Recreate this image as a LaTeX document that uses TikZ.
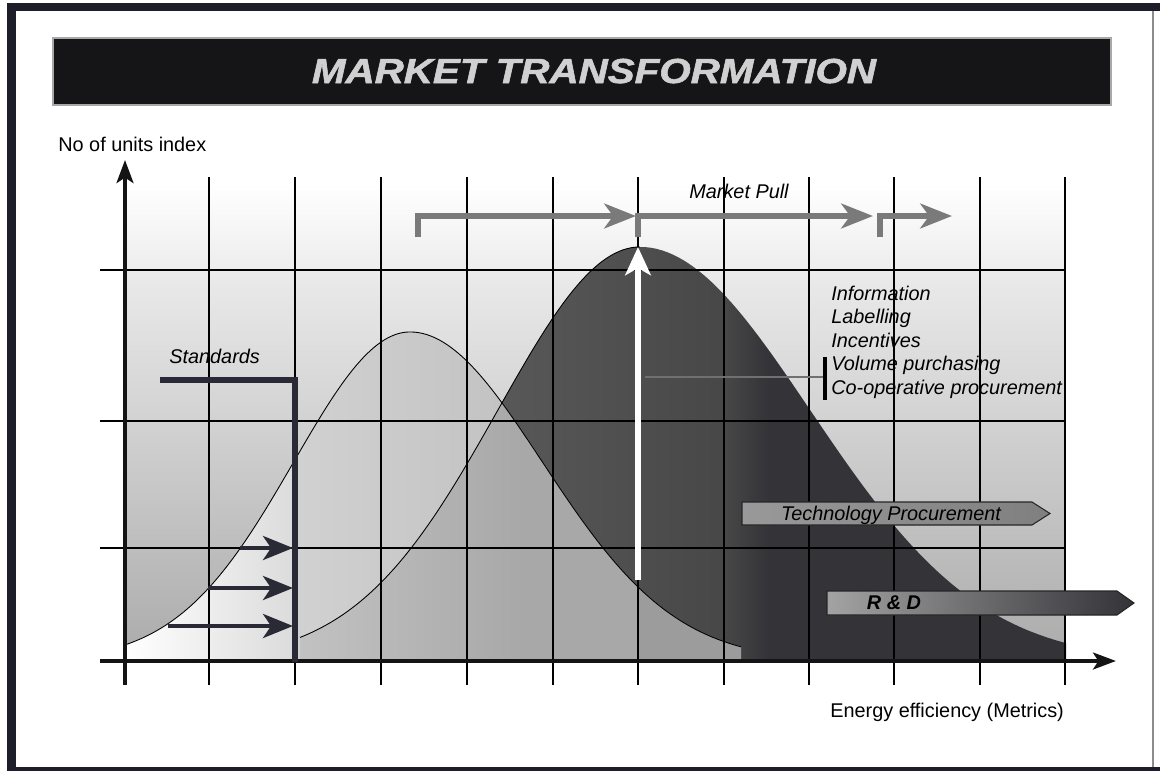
\documentclass[tikz,border=0pt]{standalone}
\usepackage{fontspec}
\setmainfont{Liberation Sans}
\usepackage{graphicx}
\usetikzlibrary{arrows.meta}
\definecolor{framec}{HTML}{1E1E2A}
\definecolor{titlebg}{HTML}{151517}
\definecolor{titlebd}{HTML}{A8A8A8}
\definecolor{titletx}{HTML}{D0D0D0}
\definecolor{mpgray}{HTML}{7A7A7A}
\definecolor{stdc}{HTML}{2A2A36}
\definecolor{darkc}{HTML}{333338}
\definecolor{linkgray}{HTML}{707070}
\begin{document}
\begin{tikzpicture}[x=0.02cm,y=-0.02cm,
  declare function={
    c1l(\x)=661-329*exp(-0.5*((\x-410)/116)*((\x-410)/116));
    c1r(\x)=661-329*exp(-0.5*((\x-410)/132)*((\x-410)/132));
    c2l(\x)=661-414*exp(-0.5*((\x-640)/142)*((\x-640)/142));
    c2r(\x)=661-414*exp(-0.5*((\x-640)/170)*((\x-640)/170));
  },
  lbl/.style={font=\fontsize{11.3}{13}\selectfont\itshape, inner sep=0pt},
  axlbl/.style={font=\fontsize{11.3}{13}\selectfont, inner sep=0pt},
  grid/.style={draw=black, line width=0.75pt},
  axis/.style={draw=black!92, line width=2.7pt, -{Stealth[length=13pt,width=9.5pt,inset=3pt]}},
  stdarr/.style={draw=stdc, line width=2.6pt, -{Stealth[length=17pt,width=13.6pt,inset=4.5pt]}},
  mparr/.style={draw=mpgray, line width=3.4pt, -{Stealth[length=18pt,width=14pt,inset=5pt]}},
  curveline/.style={draw=black, line width=0.5pt},
  tagbox/.style={draw=black!85, line width=0.6pt}
]
\useasboundingbox (0,0) rectangle (1160,771);
\fill[white] (0,0) rectangle (1160,771);

% frame
\fill[framec] (7,3) rectangle (16,771);
\fill[framec] (7,3) rectangle (1160,11);
\fill[framec] (7,767) rectangle (1160,771);
\draw[black!45, line width=0.6pt] (1153,11) -- (1153,767);

% title bar
\draw[fill=titlebg, draw=titlebd, line width=0.9pt] (53,38) rectangle (1111,105);
\node[anchor=base, inner sep=0pt, text=titletx] (title) at (594,83)
  {\scalebox{1.16}[1]{\fontsize{19.8}{22}\selectfont\bfseries\itshape\addfontfeatures{FakeBold=1.5}MARKET TRANSFORMATION}};

% chart background
\shade[top color=white, bottom color=black!7] (125,183) rectangle (1065,270);
\shade[top color=black!8, bottom color=black!33] (125,270) rectangle (1065,661);

% region under curve 1, left of standards
\begin{scope}
  \clip (125,661) -- plot[domain=125:295,samples=40] (\x,{c1l(\x)}) -- (295,661) -- cycle;
  \shade[left color=white, right color=black!14] (125,440) rectangle (295,661);
\end{scope}

\def\ctwo{(300,661) -- plot[domain=300:640,samples=60] (\x,{c2l(\x)}) -- plot[domain=640:1066,samples=80] (\x,{c2r(\x)}) -- (1066,661) -- cycle}
\def\cone{(295,661) -- plot[domain=295:410,samples=40] (\x,{c1l(\x)}) -- plot[domain=410:741,samples=60] (\x,{c1r(\x)}) -- (741,661) -- cycle}

% curve 2 (dark)
\begin{scope}
  \clip \ctwo;
  \shade[left color=black!60, right color=black!67] (300,240) rectangle (553,661);
  \shade[left color=black!67, right color=black!72] (553,240) rectangle (724,661);
  \shade[left color=black!72, right color=darkc] (724,240) rectangle (770,661);
  \fill[darkc] (770,240) rectangle (1070,661);
\end{scope}

% curve 1 (light)
\begin{scope}
  \clip \cone;
  \shade[left color=black!18, right color=black!30] (295,320) rectangle (741,661);
\end{scope}
\begin{scope}
  \clip \cone;
  \clip \ctwo;
  \shade[left color=black!24, right color=black!34] (300,380) rectangle (520,661);
  \fill[black!34] (520,380) rectangle (638,661);
  \fill[black!39] (638,380) rectangle (741,661);
\end{scope}

% curve outlines
\draw[curveline] plot[domain=125:410,samples=80] (\x,{c1l(\x)}) -- plot[domain=410:741,samples=80] (\x,{c1r(\x)});
\draw[curveline] plot[domain=300:640,samples=80] (\x,{c2l(\x)});

% grid
\foreach \gx in {209,295,381,467,553,638,724,809,894,980,1065}
  \draw[grid] (\gx,177) -- (\gx,685);
\foreach \gy in {270,421,548}
  \draw[grid] (100,\gy) -- (1065,\gy);

% axes
\coordinate (yb) at (125,685);
\coordinate (yt) at (125,160);
\coordinate (xl) at (100,661);
\coordinate (xr) at (1116,661);
\draw[axis] (yb) -- (yt);
\draw[axis] (xl) -- (xr);

% standards
\coordinate (st0) at (160,380);
\coordinate (st1) at (295,380);
\coordinate (st2) at (295,662);
\draw[draw=stdc, line width=3.2pt] (st0) -- (st1) -- (st2);
\node[lbl, anchor=base west] (standards) at (169,363) {Standards};
\coordinate (a1s) at (240,548); \coordinate (a1e) at (293,548);
\coordinate (a2s) at (208,588); \coordinate (a2e) at (293,588);
\coordinate (a3s) at (168,626); \coordinate (a3e) at (293,626);
\draw[stdarr] (a1s) -- (a1e);
\draw[stdarr] (a2s) -- (a2e);
\draw[stdarr] (a3s) -- (a3e);

% market pull
\coordinate (m1a) at (418,237); \coordinate (m1b) at (418,216); \coordinate (m1c) at (636,216);
\coordinate (m2a) at (638,237); \coordinate (m2b) at (638,216); \coordinate (m2c) at (873,216);
\coordinate (m3a) at (880,237); \coordinate (m3b) at (880,216); \coordinate (m3c) at (952,216);
\draw[mparr] (m1a) -- (m1b) -- (m1c);
\draw[mparr] (m2a) -- (m2b) -- (m2c);
\draw[mparr] (m3a) -- (m3b) -- (m3c);
\node[lbl, anchor=base west] (mpull) at (689,198) {Market Pull};

% white arrow
\coordinate (wb) at (638,580);
\coordinate (wt) at (638,247);
\draw[white, line width=3pt, -{Stealth[length=16pt,width=14.5pt,inset=4pt]}] (wb) -- (wt);

% measures list
\coordinate (lk0) at (645,377);
\coordinate (lk1) at (824,377);
\draw[linkgray, line width=1.1pt] (lk0) -- (lk1);
\draw[black, line width=1.8pt] (825,357) -- (825,400);
\node[lbl, anchor=base west] (info) at (831,300) {Information};
\node[lbl, anchor=base west] (label) at (831,323.5) {Labelling};
\node[lbl, anchor=base west] (incent) at (831,347) {Incentives};
\node[lbl, anchor=base west] (volume) at (831,370.5) {Volume purchasing};
\node[lbl, anchor=base west] (coop) at (831,394) {Co-operative procurement};

% technology procurement
\shade[tagbox, left color=black!40, right color=black!50]
  (742,502) -- (1032,502) -- (1050,513.5) -- (1032,525) -- (742,525) -- cycle;
\node[lbl, anchor=base] (tech) at (891,520) {Technology Procurement};

% R & D
\shade[tagbox, left color=black!36, middle color=black!52, right color=darkc]
  (827,591) -- (1117,591) -- (1134,603) -- (1117,615) -- (827,615) -- cycle;
\node[lbl, anchor=base, font=\fontsize{11.3}{13}\selectfont\bfseries\itshape] (rd) at (894,609) {R \& D};

% axis labels
\node[axlbl, anchor=base west] (ylabel) at (58,151) {No of units index};
\node[axlbl, anchor=base west] (xlabel) at (830,717) {Energy efficiency (Metrics)};
\end{tikzpicture}
\end{document}
